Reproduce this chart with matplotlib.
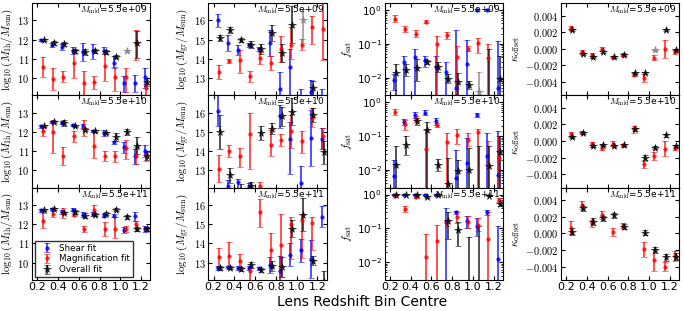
import numpy as np
import matplotlib.pyplot as plt
from matplotlib.ticker import FuncFormatter, MultipleLocator

plt.rcParams['mathtext.fontset'] = 'cm'
plt.rcParams['font.family'] = 'DejaVu Sans'

# redshift bin centres and stellar-mass bins (one row each)
z_bins = [0.25, 0.35, 0.45, 0.55, 0.65, 0.75, 0.85, 0.95, 1.05, 1.15, 1.25]
m_mid = ['5.5e+09', '5.5e+10', '5.5e+11']
grey_row, grey_bin = 0, 8   # flagged overall fit, drawn in grey

# ---- log10(M_1h / M_sun) : value, lower bound, upper bound (one list per row)
m1h_shear = [[12.0, 11.73, 11.6, 11.43, 11.35, 11.43, 11.4, 10.77, 9.72, 9.72, 10.07],
             [12.3, 12.52, 12.48, 12.34, 12.3, 12.04, 11.95, 11.45, 11.19, 10.74, 11.0],
             [12.72, 12.77, 12.63, 12.75, 12.5, 12.54, 12.45, 12.45, 11.7, 12.4, 11.75]]
m1h_shear_lo = [[11.95, 11.61, 11.45, 11.26, 10.9, 11.0, 11.23, 10.55, 9.25, 9.3, 9.5],
                [12.22, 12.47, 12.41, 12.29, 12.2, 11.97, 11.8, 11.35, 10.9, 10.35, 10.7],
                [12.65, 12.72, 12.53, 12.68, 12.35, 12.44, 12.35, 12.35, 11.55, 12.15, 11.6]]
m1h_shear_hi = [[12.05, 11.85, 11.75, 11.6, 11.8, 11.75, 11.62, 11.15, 10.1, 10.15, 10.55],
                [12.38, 12.57, 12.55, 12.39, 12.4, 12.11, 12.1, 11.55, 11.45, 11.1, 11.3],
                [12.79, 12.82, 12.73, 12.82, 12.65, 12.64, 12.55, 12.55, 11.85, 12.65, 11.9]]
m1h_mag = [[10.6, 9.95, 10.07, 10.77, 9.72, 9.8, 10.64, 10.03, 10.03, 11.81, 9.47],
           [12.07, 11.99, 10.74, 11.78, 12.2, 11.28, 10.74, 10.74, 11.14, 10.74, 10.78],
           [12.19, 12.54, 12.58, 12.5, 11.75, 12.72, 11.75, 11.75, 11.75, 12.0, 11.75]]
m1h_mag_lo = [[10.07, 9.37, 9.8, 10.0, 9.0, 9.45, 9.86, 9.33, 9.3, 10.94, 9.1],
              [11.8, 10.9, 10.3, 11.5, 11.8, 10.65, 10.5, 10.45, 10.6, 10.35, 10.5],
              [11.79, 12.39, 12.3, 12.4, 11.6, 12.44, 11.4, 11.3, 11.6, 11.65, 11.65]]
m1h_mag_hi = [[11.08, 10.52, 10.35, 11.47, 10.38, 10.1, 11.25, 10.6, 10.5, 12.48, 9.7],
              [12.3, 12.6, 11.19, 12.05, 12.6, 12.0, 11.0, 11.0, 11.6, 11.2, 11.0],
              [12.59, 12.69, 12.86, 12.6, 11.9, 13.0, 12.1, 12.35, 11.9, 12.15, 11.85]]
m1h_tot = [[12.0, 11.82, 11.78, 11.4, 11.34, 11.4, 11.34, 11.12, 11.4, 11.82, 9.77],
           [12.29, 12.52, 12.48, 12.3, 12.11, 12.04, 11.95, 11.72, 11.99, 11.28, 10.74],
           [12.72, 12.77, 12.58, 12.63, 12.45, 12.5, 12.54, 12.75, 12.37, 11.75, 11.75]]
m1h_tot_lo = [[11.95, 11.72, 11.68, 11.3, 11.19, 11.28, 11.24, 11.02, 11.35, 11.05, 9.6],
              [12.24, 12.47, 12.33, 12.27, 12.03, 11.99, 11.88, 11.52, 11.84, 10.83, 10.54],
              [12.67, 12.72, 12.53, 12.53, 12.3, 12.4, 12.47, 12.67, 12.25, 11.63, 11.65]]
m1h_tot_hi = [[12.05, 11.92, 11.88, 11.5, 11.49, 11.52, 11.44, 11.22, 11.45, 12.45, 10.0],
              [12.34, 12.57, 12.63, 12.33, 12.19, 12.09, 12.02, 11.92, 12.14, 11.73, 10.94],
              [12.77, 12.82, 12.63, 12.73, 12.6, 12.6, 12.61, 12.83, 12.49, 11.87, 11.85]]

# ---- log10(M_gr / M_sun)
mgr_shear = [[16.0, 14.83, 14.46, 14.74, 14.52, 14.83, 12.42, 13.56, 12.0, 12.3, 11.9],
             [16.09, 12.17, 12.38, 12.15, 11.5, 11.5, 15.82, 14.64, 12.35, 14.7, 14.64],
             [12.7, 12.77, 12.74, 12.7, 12.7, 12.88, 12.56, 13.41, 13.65, 13.18, 15.38]]
mgr_shear_lo = [[15.67, 14.43, 14.2, 14.64, 14.4, 14.13, 11.9, 12.0, 11.5, 11.7, 11.3],
                [15.3, 11.8, 12.0, 11.8, 11.0, 11.0, 15.22, 12.8, 11.8, 13.25, 14.1],
                [12.6, 12.7, 12.64, 12.6, 12.63, 12.48, 11.96, 12.81, 13.05, 12.18, 14.83]]
mgr_shear_hi = [[16.33, 15.23, 14.72, 14.84, 14.64, 15.48, 13.32, 14.52, 12.45, 12.9, 12.45],
                [17.0, 12.5, 12.55, 12.35, 11.9, 11.9, 16.42, 15.54, 13.2, 16.15, 15.19],
                [12.8, 12.84, 12.84, 12.8, 12.77, 13.28, 13.36, 14.01, 14.25, 14.18, 15.93]]
mgr_mag = [[13.3, 13.9, 13.94, 13.09, 14.05, 13.78, 14.52, 14.72, 14.74, 15.65, 15.56],
           [13.09, 14.0, 13.76, 14.89, 12.2, 14.32, 14.59, 15.03, 14.54, 15.74, 14.8],
           [13.27, 13.35, 13.1, 12.56, 15.65, 13.65, 13.94, 15.0, 15.24, 15.08, 11.5]]
mgr_mag_lo = [[12.93, 13.8, 13.24, 12.79, 13.75, 13.4, 13.86, 13.97, 14.44, 14.78, 13.96],
              [12.39, 13.7, 13.16, 13.09, 11.8, 13.72, 14.29, 14.18, 13.9, 15.24, 14.1],
              [12.77, 12.65, 12.75, 12.0, 14.85, 12.75, 12.24, 13.2, 13.24, 13.68, 11.0]]
mgr_mag_hi = [[13.67, 14.0, 14.44, 13.39, 14.35, 14.16, 15.18, 15.65, 15.04, 16.25, 16.9],
              [13.79, 14.3, 14.16, 15.99, 12.4, 15.12, 14.89, 15.88, 15.04, 16.24, 15.2],
              [13.77, 14.05, 13.45, 12.7, 16.3, 14.55, 15.54, 15.35, 15.54, 15.38, 12.0]]
mgr_tot = [[15.09, 15.51, 14.99, 14.74, 14.52, 15.35, 14.3, 15.77, 16.0, 12.47, 11.5],
           [14.99, 12.74, 11.9, 12.2, 14.94, 15.17, 15.82, 16.05, 11.5, 15.88, 13.94],
           [12.7, 12.74, 12.65, 12.88, 12.6, 12.83, 12.77, 14.77, 15.5, 13.1, 12.0]]
mgr_tot_lo = [[14.94, 15.36, 14.89, 14.54, 14.27, 14.95, 13.82, 14.82, 14.8, 12.07, 11.0],
              [14.09, 12.34, 11.6, 11.9, 14.59, 14.87, 15.32, 15.35, 11.0, 15.53, 13.34],
              [12.6, 12.67, 12.55, 12.73, 12.5, 12.58, 12.27, 14.32, 14.65, 12.85, 11.5]]
mgr_tot_hi = [[15.24, 15.66, 15.09, 14.94, 14.77, 15.75, 14.78, 16.77, 16.6, 12.87, 12.0],
              [15.89, 13.14, 12.3, 12.4, 15.29, 15.47, 16.32, 16.75, 11.9, 16.23, 14.54],
              [12.8, 12.81, 12.75, 13.03, 12.7, 13.08, 13.27, 15.22, 16.35, 13.35, 12.56]]

# ---- f_sat
fsat_shear = [[0.0087, 0.029, 0.041, 0.033, 0.021, 0.015, 0.005, 0.025, 1.0, 1.0, 0.005],
              [0.0066, 0.26, 0.41, 0.48, 0.28, 1e-4, 0.0057, 0.016, 0.41, 0.026, 0.0072],
              [1.0, 1.0, 1.0, 1.0, 1.0, 0.15, 0.3, 0.16, 0.12, 0.3, 0.0125]]
fsat_shear_lo = [[0.0042, 1e-4, 1e-4, 0.02, 1e-4, 1e-4, 1e-4, 1e-4, 0.95, 0.95, 1e-4],
                 [1e-4, 0.21, 0.35, 0.41, 0.22, 1e-4, 1e-4, 1e-4, 0.36, 1e-4, 1e-4],
                 [0.95, 0.95, 0.95, 0.95, 0.95, 1e-4, 0.27, 0.1, 0.06, 0.25, 1e-4]]
fsat_shear_hi = [[0.013, 0.045, 0.07, 0.045, 0.045, 0.03, 0.25, 0.13, 1.05, 1.05, 0.12],
                 [0.02, 0.32, 0.5, 0.6, 0.35, 1e-4, 0.04, 0.09, 0.47, 0.12, 0.14],
                 [1.05, 1.05, 1.05, 1.05, 1.05, 0.4, 0.33, 0.24, 0.2, 0.35, 0.12]]
fsat_mag = [[0.56, 0.27, 0.2, 0.45, 0.1, 0.18, 0.04, 0.072, 0.107, 0.037, 1e-4],
            [0.51, 0.23, 0.32, 0.043, 0.21, 0.067, 0.105, 0.075, 0.13, 0.014, 0.022],
            [0.93, 0.38, 0.85, 0.014, 0.042, 0.15, 0.21, 0.15, 0.13, 0.049, 0.7]]
fsat_mag_lo = [[0.45, 0.22, 0.16, 0.4, 1e-4, 0.14, 1e-4, 0.06, 0.055, 1e-4, 1e-4],
               [0.41, 0.15, 0.26, 1e-4, 0.18, 1e-4, 0.06, 0.05, 1e-4, 1e-4, 1e-4],
               [0.88, 0.3, 0.78, 1e-4, 1e-4, 0.12, 0.14, 0.1, 0.085, 1e-4, 0.6]]
fsat_mag_hi = [[0.7, 0.33, 0.25, 0.5, 0.17, 0.22, 0.085, 0.088, 0.15, 0.1, 1e-4],
               [0.65, 0.3, 0.4, 0.15, 0.24, 0.12, 0.16, 0.12, 0.16, 0.07, 0.1],
               [0.98, 0.45, 0.92, 0.07, 0.13, 0.18, 0.3, 0.24, 0.2, 0.3, 0.8]]
fsat_tot = [[0.014, 0.017, 0.019, 0.029, 0.021, 0.0093, 0.0074, 0.006, 0.0037, 0.002, 0.009],
            [0.014, 0.054, 0.28, 0.15, 0.014, 0.0039, 0.0095, 0.01, 0.002, 0.013, 0.035],
            [1.0, 1.0, 1.0, 0.83, 1.0, 0.17, 0.09, 0.002, 0.002, 0.93, 0.53]]
fsat_tot_lo = [[1e-4, 0.011, 0.008, 0.025, 0.015, 0.007, 1e-4, 0.0045, 1e-4, 1e-4, 1e-4],
               [1e-4, 0.028, 0.22, 1e-4, 0.009, 1e-4, 1e-4, 1e-4, 1e-4, 1e-4, 1e-4],
               [0.97, 0.97, 0.97, 0.78, 0.97, 0.05, 0.03, 1e-4, 1e-4, 0.88, 0.45]]
fsat_tot_hi = [[0.025, 0.025, 0.035, 0.033, 0.03, 0.013, 0.014, 0.008, 0.015, 0.07, 0.045],
               [0.05, 0.1, 0.35, 0.27, 0.021, 0.022, 0.02, 0.045, 0.05, 0.05, 0.1],
               [1.03, 1.03, 1.03, 0.88, 1.03, 0.3, 0.15, 0.055, 0.12, 0.98, 0.63]]

# ---- kappa_offset : value and symmetric error (no shear-only fit)
kap_mag = [[0.00252, -0.0004, -0.0008, 0.0, -0.001, -0.0007, -0.0031, -0.0035, -0.0011, 0.0, -0.0004],
           [0.0008, 0.001, -0.0004, -0.0008, -0.0003, -0.0005, 0.0014, -0.0028, -0.0018, -0.0009, -0.0008],
           [0.0007, 0.0034, 0.0012, 0.0022, 0.0002, 0.0009, np.nan, -0.0019, -0.0032, -0.004, -0.0027]]
kap_mag_err = [[0.0002, 0.0002, 0.0003, 0.0002, 0.0001, 0.0002, 0.0002, 0.00045, 0.0003, 0.0011, 0.0002],
               [0.0003, 0.0002, 0.0003, 0.0003, 0.0003, 0.0002, 0.0004, 0.0004, 0.0005, 0.0009, 0.0003],
               [0.0008, 0.0005, 0.0004, 0.0005, 0.0005, 0.0003, np.nan, 0.0009, 0.0013, 0.0005, 0.0006]]
kap_tot = [[0.0023, -0.0006, -0.001, -0.0004, -0.001, -0.0008, -0.0029, -0.0029, -0.0002, 0.0023, -0.0002],
           [0.0005, 0.001, -0.0006, -0.0005, -0.0006, -0.0005, 0.0014, -0.002, -0.0008, 0.0007, -0.0006],
           [0.0002, 0.003, 0.0014, 0.0018, 0.0022, 0.0008, np.nan, 0.0001, -0.002, -0.0029, -0.0028]]
kap_tot_err = [[0.00012, 0.00012, 0.00012, 0.00012, 0.00012, 0.00012, 0.00012, 0.00012, 0.0001, 0.00012, 0.00012],
               [0.00015, 0.00015, 0.00015, 0.00015, 0.00015, 0.00015, 0.00015, 0.0003, 0.00015, 0.00015, 0.00015],
               [0.0004, 0.0003, 0.0004, 0.0003, 0.0003, 0.0003, np.nan, 0.0003, 0.0004, 0.0004, 0.0004]]


def draw(ax, dx, v, lo, hi, color, marker, ms, label=None, skip=None):
    x = np.array(z_bins) + dx
    v, lo, hi = np.array(v, float), np.array(lo, float), np.array(hi, float)
    keep = np.ones(len(v), bool)
    if skip is not None:
        keep[skip] = False
        ax.errorbar(x[skip], v[skip], yerr=[[v[skip] - lo[skip]], [hi[skip] - v[skip]]],
                    fmt=marker, color='grey', ms=ms, capsize=2, elinewidth=1.2, mew=0.5, alpha=0.8)
    return ax.errorbar(x[keep], v[keep], yerr=[v[keep] - lo[keep], hi[keep] - v[keep]],
                       fmt=marker, color=color, ms=ms, capsize=2, elinewidth=1.2, mew=0.5,
                       alpha=0.8, label=label)


def sym(v, e):
    v, e = np.array(v, float), np.array(e, float)
    return v, v - e, v + e


fig, axes = plt.subplots(3, 4, figsize=(6.84, 3.11), dpi=100, sharex=True)
fig.subplots_adjust(left=0.047, right=0.993, bottom=0.10, top=0.99, wspace=0.49, hspace=0)

math_fmt = FuncFormatter(lambda v, p: '$%g$' % v)
kap_fmt = FuncFormatter(lambda v, p: '$%.3f$' % v)

for r in range(3):
    skip = grey_bin if r == grey_row else None
    ax = axes[r, 0]
    h1 = draw(ax, -0.01, m1h_shear[r], m1h_shear_lo[r], m1h_shear_hi[r], 'b', 'o', 2.5, 'Shear fit')
    h2 = draw(ax, 0.0, m1h_mag[r], m1h_mag_lo[r], m1h_mag_hi[r], 'r', 'o', 2.5, 'Magnification fit')
    h3 = draw(ax, 0.01, m1h_tot[r], m1h_tot_lo[r], m1h_tot_hi[r], 'k', '*', 5.5, 'Overall fit', skip)
    ax.set_ylim(9.1, 13.9)
    ax.yaxis.set_major_locator(MultipleLocator(1))
    ax.yaxis.set_major_formatter(math_fmt)
    ax.set_ylabel(r'$\log_{10}(M_{\rm 1h}/M_{\rm sun})$', fontsize=8, labelpad=2)
    if r == 2:
        ax.legend(handles=[h1, h2, h3], loc='lower left', fontsize=6.3, numpoints=1,
                  fancybox=False, edgecolor='k', borderpad=0.35, labelspacing=0.2,
                  handletextpad=0.4, borderaxespad=0.3)

    ax = axes[r, 1]
    draw(ax, -0.01, mgr_shear[r], mgr_shear_lo[r], mgr_shear_hi[r], 'b', 'o', 2.5)
    draw(ax, 0.0, mgr_mag[r], mgr_mag_lo[r], mgr_mag_hi[r], 'r', 'o', 2.5)
    draw(ax, 0.01, mgr_tot[r], mgr_tot_lo[r], mgr_tot_hi[r], 'k', '*', 5.5, skip=skip)
    ax.set_ylim(12.1, 16.9)
    ax.yaxis.set_major_locator(MultipleLocator(1))
    ax.yaxis.set_major_formatter(math_fmt)
    ax.set_ylabel(r'$\log_{10}(M_{\rm gr}/M_{\rm sun})$', fontsize=8, labelpad=2)

    ax = axes[r, 2]
    ax.set_yscale('log')
    draw(ax, -0.01, fsat_shear[r], fsat_shear_lo[r], fsat_shear_hi[r], 'b', 'o', 2.5)
    draw(ax, 0.0, fsat_mag[r], fsat_mag_lo[r], fsat_mag_hi[r], 'r', 'o', 2.5)
    draw(ax, 0.01, fsat_tot[r], fsat_tot_lo[r], fsat_tot_hi[r], 'k', '*', 5.5, skip=skip)
    ax.set_ylim(0.003, 1.6)
    ax.set_ylabel(r'$f_{\rm sat}$', fontsize=8, labelpad=2)

    ax = axes[r, 3]
    draw(ax, 0.0, *sym(kap_mag[r], kap_mag_err[r]), 'r', 'o', 2.5)
    draw(ax, 0.01, *sym(kap_tot[r], kap_tot_err[r]), 'k', '*', 5.5, skip=skip)
    ax.set_ylim(-0.0056, 0.0055)
    ax.yaxis.set_major_locator(MultipleLocator(0.002))
    ax.yaxis.set_major_formatter(kap_fmt)
    ax.set_ylabel(r'$\kappa_{\rm offset}$', fontsize=8, labelpad=2)

    for ax in axes[r]:
        ax.text(0.98, 0.995, r'$M_{\rm mid}$=' + m_mid[r], transform=ax.transAxes,
                ha='right', va='top', fontsize=6.5)
        ax.tick_params(direction='in', top=True, right=True, which='both',
                       labelsize=7.5, length=3, pad=2)
        ax.tick_params(which='minor', length=1.5)

for ax in axes[2]:
    ax.set_xlim(0.15, 1.29)
    ax.xaxis.set_major_locator(MultipleLocator(0.2))
    ax.tick_params(axis='x', labelsize=8, pad=1.5)

fig.text(0.53, 0.005, 'Lens Redshift Bin Centre', ha='center', va='bottom', fontsize=10)
fig.savefig('out.png', dpi=100)
